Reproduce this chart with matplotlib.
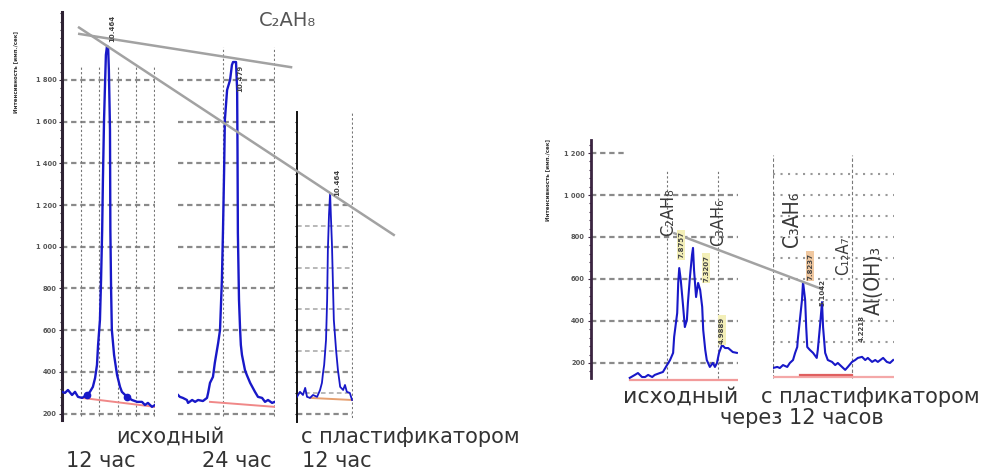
import numpy as np
import matplotlib
matplotlib.use("agg")
import matplotlib.pyplot as plt
from matplotlib.ticker import MultipleLocator, FixedLocator, FuncFormatter

# --- data (2theta, counts) ---
l1_x = [10.00, 10.08, 10.16, 10.27, 10.35, 10.43, 10.54, 10.67, 10.75, 10.83, 10.89, 10.94, 10.97,
        11.02, 11.05, 11.08, 11.10, 11.13, 11.16, 11.18, 11.21, 11.24, 11.26, 11.29, 11.30, 11.32,
        11.34, 11.40, 11.48, 11.56, 11.61, 11.75, 11.88, 12.02, 12.15, 12.23, 12.31, 12.42, 12.50]
l1_y = [304, 299, 313, 289, 304, 280, 275, 289, 304, 328, 371, 433, 529,
        649, 841, 1081, 1320, 1608, 1800, 1920, 1963, 1958, 1848, 1560, 1081, 793,
        601, 481, 385, 328, 304, 280, 265, 256, 256, 241, 251, 232, 241]

l2_x = [10.00, 10.05, 10.13, 10.24, 10.27, 10.38, 10.46, 10.54, 10.67, 10.78, 10.81, 10.86, 10.94,
        10.99, 11.08, 11.13, 11.18, 11.21, 11.24, 11.26, 11.32, 11.40, 11.45, 11.48, 11.56, 11.59,
        11.60, 11.61, 11.64, 11.67, 11.69, 11.72, 11.80, 11.85, 11.94, 12.07, 12.15, 12.26, 12.34,
        12.42, 12.53, 12.60]
l2_y = [289, 280, 275, 265, 251, 265, 256, 265, 260, 275, 299, 347, 376,
        443, 539, 601, 841, 1081, 1368, 1608, 1752, 1800, 1872, 1886, 1886, 1752,
        1464, 1066, 745, 601, 529, 481, 409, 385, 347, 304, 280, 275, 256,
        265, 251, 256]

l3_x = [10.00, 10.08, 10.16, 10.22, 10.27, 10.35, 10.43, 10.54, 10.62, 10.67, 10.70, 10.73, 10.78,
        10.81, 10.83, 10.86, 10.89, 10.91, 10.94, 10.97, 10.99, 11.05, 11.10, 11.16, 11.24, 11.29,
        11.34, 11.42, 11.48]
l3_y = [280, 304, 289, 323, 280, 275, 289, 280, 313, 347, 395, 433, 553,
        745, 985, 1153, 1258, 1153, 1009, 793, 649, 505, 409, 328, 313, 337,
        304, 299, 265]

r1_x = [9.27, 9.37, 9.43, 9.51, 9.57, 9.63, 9.71, 9.76, 9.86, 9.92, 10.00, 10.06, 10.12, 10.14,
        10.20, 10.22, 10.24, 10.27, 10.31, 10.35, 10.39, 10.41, 10.45, 10.49, 10.51, 10.53, 10.57,
        10.61, 10.65, 10.69, 10.71, 10.75, 10.78, 10.84, 10.90, 10.94, 10.98, 11.02, 11.08, 11.14,
        11.20, 11.29, 11.37]
r1_y = [129, 143, 152, 133, 133, 143, 133, 143, 152, 157, 190, 214, 248, 324,
        438, 581, 652, 595, 486, 371, 405, 486, 610, 714, 748, 643, 514,
        581, 548, 467, 357, 262, 214, 181, 200, 181, 200, 248, 286, 271,
        271, 252, 248]

r2_x = [12.00, 12.08, 12.13, 12.19, 12.27, 12.32, 12.38, 12.42, 12.46, 12.47, 12.51, 12.55, 12.57,
        12.61, 12.63, 12.65, 12.70, 12.76, 12.83, 12.85, 12.89, 12.93, 12.95, 12.99, 13.04, 13.12,
        13.18, 13.23, 13.31, 13.37, 13.42, 13.50, 13.56, 13.61, 13.69, 13.75, 13.80, 13.88, 13.94,
        13.99, 14.09, 14.16, 14.22, 14.28]
r2_y = [176, 181, 176, 190, 181, 200, 214, 248, 276, 310, 405, 500, 586,
        500, 371, 276, 262, 248, 224, 262, 371, 490, 371, 248, 214, 205,
        190, 200, 181, 167, 181, 205, 214, 224, 229, 214, 224, 205, 214,
        205, 224, 205, 200, 214]

# background lines (start/end 2theta, start/end counts)
l1_bg = [(10.54, 12.50), (275, 232)]
l2_bg = [(10.86, 12.60), (256, 232)]
l3_bg = [(10.35, 11.48), (275, 265)]
r1_bg = [(9.27, 11.37), (119, 119)]
r2_bg = [(12.00, 14.30), (133, 133)]
r2_bg_fit = [(12.51, 13.50), (143, 143)]

# peak-boundary markers on the first pattern
l1_marks_x = [10.67, 11.75]
l1_marks_y = [289, 280]

# anchors of the grey trend lines (panel, 2theta, counts)
trend_a = [("l1", 11.21, 2000), ("l2", 11.48, 1905)]
trend_b = [("l1", 11.21, 1963), ("l3", 10.89, 1258)]
trend_r = [("r1", 10.49, 786), ("r2", 12.57, 586)]

W, H = 981, 470
fig = plt.figure(figsize=(W / 100, H / 100), dpi=100)
fig.patch.set_facecolor("white")

BLUE = "#1818c8"
GRID = "#8a8a8a"


def add_px(left, top, right, bottom):
    return fig.add_axes([left / W, 1 - bottom / H, (right - left) / W, (bottom - top) / H])


def bare(ax):
    for s in ax.spines.values():
        s.set_visible(False)
    ax.set_xticks([])
    ax.set_yticks([])
    ax.patch.set_alpha(0)


def sep_fmt(v, pos):
    v = int(round(v))
    return f"{v // 1000} {v % 1000:03d}" if v >= 1000 else str(v)


def y_axis(ax, color, lw, lo, hi, minor):
    ax.spines["left"].set_visible(True)
    ax.spines["left"].set_color(color)
    ax.spines["left"].set_linewidth(lw)
    ax.spines["left"].set_bounds(lo, hi)
    ax.yaxis.set_minor_locator(FixedLocator(np.arange(lo - lo % minor + minor, hi, minor)))
    ax.tick_params(axis="y", which="both", colors=color, labelcolor="#555555",
                   labelsize=4.8, length=2.5, width=0.8, pad=1.5)
    ax.tick_params(axis="y", which="minor", length=1.8)


# ---------------- left group ----------------
YL = (169, 2126)
l1 = add_px(62, 12, 155, 420)
l2 = add_px(178, 12, 274.7, 420)
l3 = add_px(297, 12, 352.8, 420)
for ax, xl in [(l1, (10.0, 12.5)), (l2, (10.0, 12.6)), (l3, (10.0, 11.5))]:
    bare(ax)
    ax.set_xlim(*xl)
    ax.set_ylim(*YL)

y_axis(l1, "#2e2233", 2.2, 169, 2126, 40)
l1.set_yticks(np.arange(200, 1900, 200))
l1.yaxis.set_major_formatter(FuncFormatter(sep_fmt))
for t in l1.get_yticklabels():
    t.set_fontweight("bold")

y_axis(l3, "#111111", 1.4, 160, 1647, 50)
l3.set_yticks([])

dash = (0, (2.4, 1.7))
l1.hlines(np.arange(200, 1900, 200), 10.0, 12.5, colors=GRID, lw=1.6, linestyles=dash, zorder=1)
l1.vlines([10.5, 11.0, 11.5, 12.0, 12.48], 190, 1860, colors="#777777", lw=0.8,
          linestyles=(0, (2, 2)), zorder=1)
l2.hlines(np.arange(200, 1900, 200), 10.0, 12.6, colors=GRID, lw=1.6, linestyles=dash, zorder=1)
l2.vlines([11.2, 12.58], 190, 1960, colors="#777777", lw=0.8, linestyles=(0, (2, 2)), zorder=1)
l3.hlines(np.arange(200, 1300, 200), 10.0, 11.48, colors=GRID, lw=1.6, linestyles=dash, zorder=1)
l3.hlines(np.arange(300, 1200, 200), 10.0, 11.48, colors="#b8b8b8", lw=1.4, linestyles=dash, zorder=1)
l3.vlines([11.48], 160, 1650, colors="#777777", lw=0.8, linestyles=(0, (2, 2)), zorder=1)

for ax, bg, c in [(l1, l1_bg, "#f08888"), (l2, l2_bg, "#f08888"), (l3, l3_bg, "#e6a070")]:
    ax.plot(bg[0], bg[1], color=c, lw=1.4, zorder=2)

l1.plot(l1_x, l1_y, color=BLUE, lw=1.7, zorder=3)
l1.plot(l1_marks_x, l1_marks_y, "o", color=BLUE, ms=4.5, zorder=4)
l2.plot(l2_x, l2_y, color=BLUE, lw=1.7, zorder=3)
l3.plot(l3_x, l3_y, color=BLUE, lw=1.3, zorder=3)

# ---------------- right group ----------------
YR = (95, 1262)
r1 = add_px(590.5, 140, 738.4, 385)
r2 = add_px(773, 140, 894.2, 385)
for ax, xl in [(r1, (8.5, 11.4)), (r2, (12.0, 14.3))]:
    bare(ax)
    ax.set_xlim(*xl)
    ax.set_ylim(*YR)

y_axis(r1, "#3a2440", 2.0, 129, 1262, 40)
r1.set_yticks(np.arange(200, 1300, 200))
r1.yaxis.set_major_formatter(FuncFormatter(sep_fmt))
for t in r1.get_yticklabels():
    t.set_fontweight("bold")

r1.hlines(np.arange(200, 1100, 200), 8.5, 11.4, colors=GRID, lw=1.6, linestyles=dash, zorder=1)
r1.hlines([1200], 8.5, 9.22, colors=GRID, lw=1.6, linestyles=dash, zorder=1)
r1.vlines([10.0, 11.0], 129, 1120, colors="#777777", lw=0.8, linestyles=(0, (2, 2)), zorder=1)
r2.hlines(np.arange(300, 1200, 100), 12.0, 14.3, colors="#999999", lw=1.5,
          linestyles=(0, (1, 2.6)), zorder=1)
r2.vlines([12.0, 13.5], 129, 1190, colors="#777777", lw=0.8, linestyles=(0, (3, 2)), zorder=1)

r1.plot(r1_bg[0], r1_bg[1], color="#f29a9a", lw=1.6, zorder=2)
r2.plot(r2_bg[0], r2_bg[1], color="#f4a8a8", lw=1.6, zorder=2)
r2.plot(r2_bg_fit[0], r2_bg_fit[1], color="#e06060", lw=1.6, zorder=2)
r1.plot(r1_x, r1_y, color=BLUE, lw=1.5, zorder=3)
r2.plot(r2_x, r2_y, color=BLUE, lw=1.5, zorder=3)

# ---------------- overlay: trend lines and captions (pixel space) ----------------
ov = fig.add_axes([0, 0, 1, 1])
ov.set_xlim(0, W)
ov.set_ylim(H, 0)
ov.axis("off")
panels = {"l1": l1, "l2": l2, "l3": l3, "r1": r1, "r2": r2}


def trend(anchors, t0, t1):
    pts = [ov.transData.inverted().transform(panels[p].transData.transform((x, y)))
           for p, x, y in anchors]
    p0, p1 = np.array(pts[0]), np.array(pts[1])
    a, b = p0 + t0 * (p1 - p0), p0 + t1 * (p1 - p0)
    ov.plot([a[0], b[0]], [a[1], b[1]], color="#a2a2a2", lw=1.8, solid_capstyle="butt")


trend(trend_a, -0.23, 1.47)
trend(trend_b, -0.13, 1.29)
trend(trend_r, -0.17, 1.18)

txt = dict(color="#333333", ha="center", va="center")
ov.text(288, 21, "C₂AH₈", fontsize=14, **{**txt, "color": "#555555"})
ov.text(170, 437, "исходный", fontsize=15, **txt)
ov.text(101, 461, "12 час", fontsize=15, **txt)
ov.text(237, 461, "24 час", fontsize=15, **txt)
ov.text(410, 437, "с пластификатором", fontsize=15, **txt)
ov.text(302, 461, "12 час", fontsize=15, color="#333333", ha="left", va="center")
ov.text(681, 397, "исходный", fontsize=16, **txt)
ov.text(870, 397, "с пластификатором", fontsize=15, **txt)
ov.text(802, 418, "через 12 часов", fontsize=15, **txt)

ylab = dict(fontsize=4, fontweight="bold", color="#333333", rotation=90, ha="center", va="center")
ov.text(16, 72, "Интенсивность [имп./сек]", **ylab)
ov.text(548, 180, "Интенсивность [имп./сек]", **ylab)

rot = dict(rotation=90, ha="center", va="center", color="#3a3a3a",
           family=["Liberation Sans Narrow", "DejaVu Sans"], fontstretch="condensed")
ov.text(668, 212, "C₂AH₈", fontsize=13, **rot)
ov.text(718, 222, "C₃AH₆", fontsize=13, **rot)
ov.text(792, 219, "C₃AH₆", fontsize=15, **rot)
ov.text(843, 256, "C₁₂A₇", fontsize=12, **rot)
ov.text(874, 280, "Al(OH)₃", fontsize=15, **rot)

pk = dict(rotation=90, ha="center", va="center", color="#444444", fontsize=5, fontweight="bold")
ov.text(112, 28, "10.464", **pk)
ov.text(240, 78, "10.479", **pk)
ov.text(337, 182, "10.464", **pk)
hl = dict(boxstyle="square,pad=0.15", fc="#f3efb8", ec="none")
ov.text(681, 245, "7.8757", bbox=hl, **pk)
ov.text(706, 268, "7.3207", bbox=hl, **pk)
ov.text(722, 330, "4.9889", bbox=hl, **pk)
ov.text(810, 266, "7.8237", bbox=dict(boxstyle="square,pad=0.15", fc="#f0c8a0", ec="none"), **pk)
ov.text(823, 293, "5.1042", **pk)
ov.text(862, 328, "4.2218", **pk)

fig.savefig("out.png", dpi=100, facecolor="white")
